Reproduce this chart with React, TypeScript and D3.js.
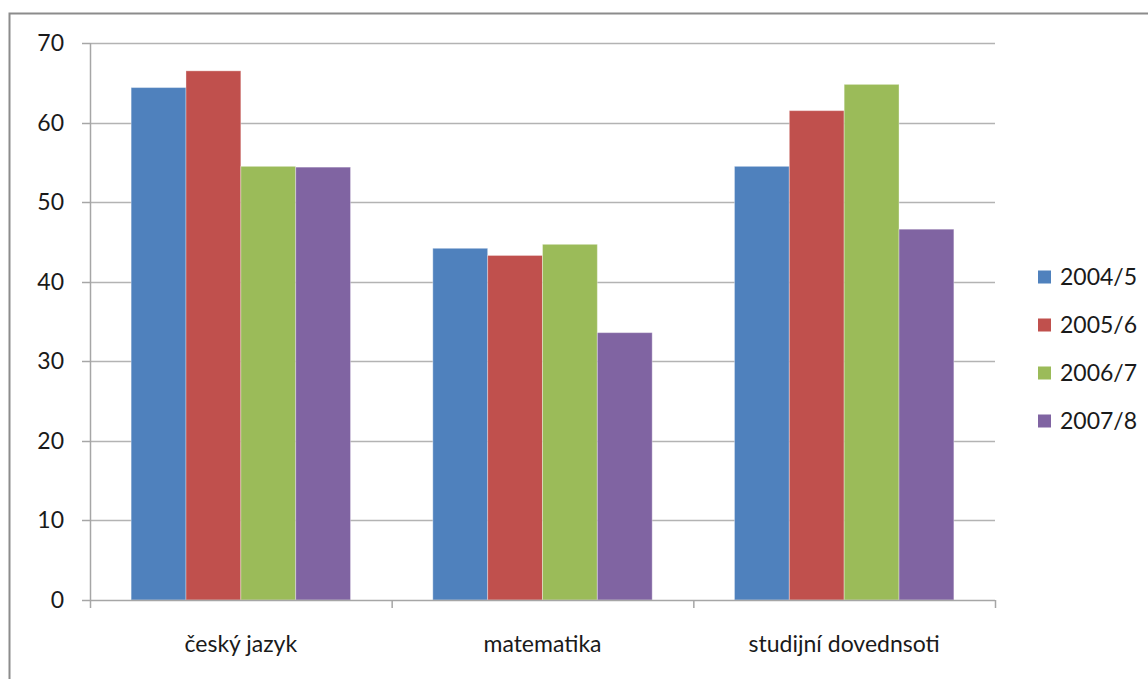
import React from "react";
import * as d3 from "d3";

const categories = ["český jazyk", "matematika", "studijní dovednsoti"];
const seriesNames = ["2004/5", "2005/6", "2006/7", "2007/8"];
const seriesColors = ["#4f81bd", "#c0504d", "#9bbb59", "#8064a2"];
const values2004 = [64.4, 44.2, 54.5];
const values2005 = [66.5, 43.3, 61.5];
const values2006 = [54.5, 44.7, 64.8];
const values2007 = [54.4, 33.6, 46.6];
const yTicks = [0, 10, 20, 30, 40, 50, 60, 70];

const seriesValues = [values2004, values2005, values2006, values2007];

export default function App() {
  const W = 1148, H = 679;
  const left = 90, right = 995, top = 43, bottom = 600;
  const font = "Lato, 'Open Sans', sans-serif";

  const x0 = d3.scaleBand<string>().domain(categories).range([left, right]).paddingInner(0).paddingOuter(0);
  const bw = x0.bandwidth();
  const barW = bw / 5.5;
  const x1 = d3.scaleBand<string>().domain(seriesNames).range([0, barW * 4]);
  const y = d3.scaleLinear().domain([0, 70]).range([bottom, top]);

  return (
    <svg width={W} height={H} style={{ position: "absolute", left: 0, top: 0, background: "#fff" }}>
      <rect x={9.5} y={13.5} width={W} height={H} fill="#fff" stroke="#8c8c8c" strokeWidth={2} />
      {yTicks.map((t) => (
        <g key={t}>
          {t > 0 && (
            <line x1={left} x2={right} y1={Math.round(y(t)) + 0.5} y2={Math.round(y(t)) + 0.5} stroke="#b3b3b3" strokeWidth={1.5} />
          )}
          <line x1={82} x2={left} y1={Math.round(y(t)) + 0.5} y2={Math.round(y(t)) + 0.5} stroke="#a6a6a6" strokeWidth={1.5} />
          <text x={64} y={y(t)} dy="0.35em" textAnchor="end" fontFamily={font} fontSize={23} fill="#1a1a1a">
            {t}
          </text>
        </g>
      ))}
      {categories.map((c, ci) =>
        seriesNames.map((s, si) => {
          const v = seriesValues[si][ci];
          const xx = (x0(c) as number) + barW * 0.75 + (x1(s) as number);
          return (
            <rect key={c + s} x={xx} y={y(v)} width={barW} height={bottom - y(v)} fill={seriesColors[si]}
              stroke="rgba(255,255,255,0.35)" strokeWidth={1} />
          );
        })
      )}
      <line x1={left + 0.5} x2={left + 0.5} y1={top} y2={bottom} stroke="#a6a6a6" strokeWidth={1.5} />
      <line x1={left} x2={right} y1={bottom + 0.5} y2={bottom + 0.5} stroke="#a6a6a6" strokeWidth={1.5} />
      {[...categories.map((c) => x0(c) as number), right].map((tx, i) => (
        <line key={i} x1={tx + 0.5} x2={tx + 0.5} y1={bottom} y2={bottom + 8} stroke="#a6a6a6" strokeWidth={1.5} />
      ))}
      {categories.map((c) => (
        <text key={c} x={(x0(c) as number) + bw / 2} y={644} dy="0.35em" textAnchor="middle" fontFamily={font} fontSize={23} fill="#1a1a1a">
          {c}
        </text>
      ))}
      {seriesNames.map((s, i) => {
        const ly = 277 + i * 48;
        return (
          <g key={s}>
            <rect x={1038} y={ly - 6.5} width={13} height={13} fill={seriesColors[i]} />
            <text x={1060} y={ly} dy="0.35em" fontFamily={font} fontSize={23} fill="#1a1a1a">
              {s}
            </text>
          </g>
        );
      })}
    </svg>
  );
}
